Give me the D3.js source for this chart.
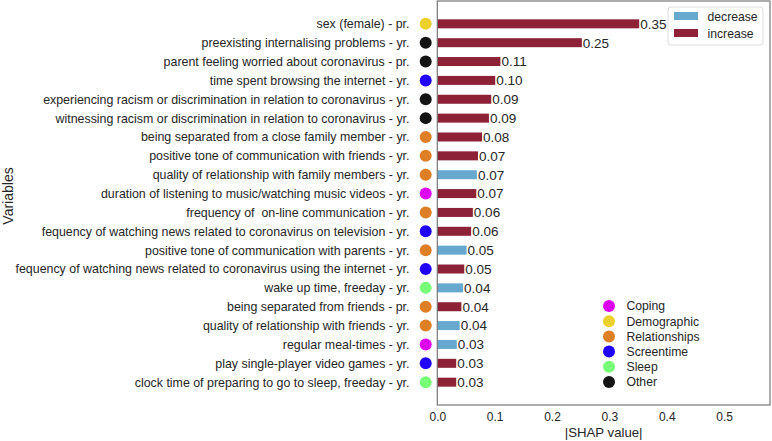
<!DOCTYPE html>
<html><head><meta charset="utf-8">
<script src="https://cdn.jsdelivr.net/npm/d3@7/dist/d3.min.js"></script>
<style>body{margin:0;background:#fff}svg{display:block;font-family:Arial,"Liberation Sans",sans-serif}text{white-space:pre}</style>
</head><body><svg id="c" width="772" height="441"></svg>
<script>
const variables = [
 "sex (female) - pr.",
 "preexisting internalising problems - yr.",
 "parent feeling worried about coronavirus - pr.",
 "time spent browsing the internet - yr.",
 "experiencing racism or discrimination in relation to coronavirus - yr.",
 "witnessing racism or discrimination in relation to coronavirus - yr.",
 "being separated from a close family member - yr.",
 "positive tone of communication with friends - yr.",
 "quality of relationship with family members - yr.",
 "duration of listening to music/watching music videos - yr.",
 "frequency of  on-line communication - yr.",
 "fequency of watching news related to coronavirus on television - yr.",
 "positive tone of communication with parents - yr.",
 "fequency of watching news related to coronavirus using the internet - yr.",
 "wake up time, freeday - yr.",
 "being separated from friends - pr.",
 "quality of relationship with friends - yr.",
 "regular meal-times - yr.",
 "play single-player video games - yr.",
 "clock time of preparing to go to sleep, freeday - yr."
];
const shapValues = [0.352,0.252,0.110,0.101,0.094,0.090,0.078,0.071,0.069,0.068,0.062,0.059,0.051,0.047,0.045,0.042,0.039,0.034,0.033,0.033];
const direction = ["increase","increase","increase","increase","increase","increase","increase","increase","decrease","increase","increase","increase","decrease","increase","decrease","increase","decrease","decrease","increase","increase"];
const domains = ["Demographic","Other","Other","Screentime","Other","Other","Relationships","Relationships","Relationships","Coping","Relationships","Screentime","Relationships","Screentime","Sleep","Relationships","Relationships","Coping","Screentime","Sleep"];
const domainNames = ["Coping","Demographic","Relationships","Screentime","Sleep","Other"];
const domainColors = ["#dd00f5","#ecd12c","#de7f25","#2000ff","#78ff78","#141414"];
const directionNames = ["decrease","increase"];
const directionColors = ["#67a8ce","#8c2137"];
const xTicks = [0,0.1,0.2,0.3,0.4,0.5];

const svg = d3.select("#c");
const L=437.3, R=770, T=1, B=405;
const x = d3.scaleLinear().domain([0,0.58]).range([L,R]);
const y = d3.scalePoint().domain(variables).range([T,B]).padding(1.21);
const dcol = d3.scaleOrdinal().domain(domainNames).range(domainColors);
const bcol = d3.scaleOrdinal().domain(directionNames).range(directionColors);
const data = variables.map((v,i)=>({v, val:shapValues[i], dir:direction[i], dom:domains[i]}));
const bh = 9;

svg.append("g").selectAll("rect").data(data).join("rect")
  .attr("x", x(0)).attr("y", d=>y(d.v)-bh/2)
  .attr("width", d=>x(d.val)-x(0)).attr("height", bh)
  .attr("fill", d=>bcol(d.dir));

svg.append("g").selectAll("text").data(data).join("text")
  .attr("x", d=>x(d.val)+1).attr("y", d=>y(d.v)).attr("dy","0.36em")
  .attr("font-size",13.5).attr("fill","#262626")
  .text(d=>d3.format(".2f")(d.val));

// frame
svg.append("rect").attr("x",L).attr("y",T).attr("width",R-L).attr("height",B-T)
  .attr("fill","none").attr("stroke","#777").attr("stroke-width",1.2);

// category dots
svg.append("g").selectAll("circle").data(data).join("circle")
  .attr("cx", 425.7).attr("cy", d=>y(d.v)).attr("r",6)
  .attr("fill", d=>dcol(d.dom));

// y labels
svg.append("g").selectAll("text").data(data).join("text")
  .attr("x", 409.5).attr("y", d=>y(d.v)).attr("dy","0.36em")
  .attr("text-anchor","end").attr("font-size",12.4).attr("fill","#262626")
  .text(d=>d.v);

// x axis
const xAxis = d3.axisBottom(x).tickValues(xTicks).tickFormat(d3.format(".1f")).tickSize(0).tickPadding(7);
const gx = svg.append("g").attr("transform",`translate(0,${B})`).call(xAxis);
gx.select(".domain").remove();
gx.selectAll("text").attr("font-size",12).attr("fill","#262626").attr("font-family","Arial, 'Liberation Sans', sans-serif");

svg.append("text").attr("x",(L+R)/2).attr("y",432).attr("dy","0.36em")
  .attr("text-anchor","middle").attr("font-size",13.2).attr("fill","#262626").text("|SHAP value|");
svg.append("text").attr("transform","translate(8,196) rotate(-90)").attr("dy","0.36em")
  .attr("text-anchor","middle").attr("font-size",14).attr("fill","#262626").text("Variables");

// direction legend
const lg = svg.append("g");
lg.append("rect").attr("x",668).attr("y",7).attr("width",95).attr("height",38).attr("rx",3)
  .attr("fill","#fff").attr("stroke","#ddd");
directionNames.forEach((n,i)=>{
  lg.append("rect").attr("x",674).attr("y",12+i*17).attr("width",24).attr("height",8).attr("fill",bcol(n));
  lg.append("text").attr("x",707.5).attr("y",16.5+i*17).attr("dy","0.36em").attr("font-size",12.2).attr("fill","#262626").text(n);
});

// domain legend
const dg = svg.append("g");
domainNames.forEach((n,i)=>{
  dg.append("circle").attr("cx",609).attr("cy",306+i*15.2).attr("r",6).attr("fill",dcol(n));
  dg.append("text").attr("x",626.5).attr("y",306+i*15.2).attr("dy","0.36em").attr("font-size",12.2).attr("fill","#262626").text(n);
});
</script></body></html>
